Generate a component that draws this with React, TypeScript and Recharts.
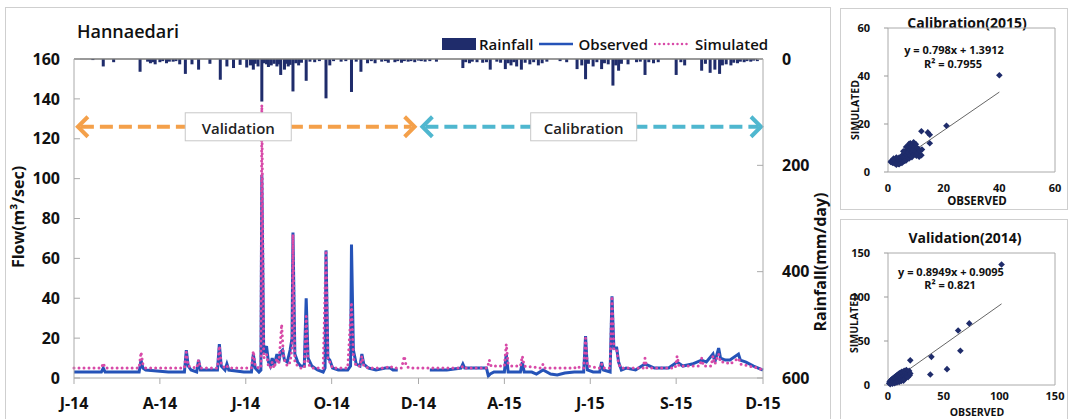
import React from 'react';
import {
  ComposedChart, Line, Bar, XAxis, YAxis, ReferenceLine,
  ScatterChart, Scatter, ReferenceArea,
} from 'recharts';

const FONT = '"Open Sans", "Noto Sans", sans-serif';
const NAVY = '#1f2c6b';
const OBS_BLUE = '#2553b8';
const SIM_PINK = '#d84aa8';

// x axis: day index from Jan 2014, quarter ticks
const tickDays = [0, 91, 182, 273, 365, 456, 547, 638, 730];
const tickLabels = ['J-14', 'A-14', 'J-14', 'O-14', 'D-14', 'A-15', 'J-15', 'S-15', 'D-15'];
const flowTicks = [0, 20, 40, 60, 80, 100, 120, 140, 160];
const rainTicks = [0, 200, 400, 600];

// [day, mm/day]
const rainfall: [number, number][] = [
  [20, 2], [31, 14], [42, 6], [70, 24], [78, 5], [81, 8], [84, 6], [86, 10], [91, 6], [94, 4],
  [98, 8], [101, 5], [105, 5], [108, 4], [112, 10], [118, 28], [125, 10], [132, 20], [144, 9],
  [155, 39], [162, 14], [169, 17], [176, 11], [183, 16], [187, 12], [190, 20], [192, 9], [195, 14],
  [199, 80], [201, 8], [204, 10], [206, 15], [209, 12], [212, 9], [215, 14], [217, 10], [219, 30],
  [223, 20], [225, 9], [227, 14], [229, 11], [232, 61], [235, 8], [238, 12], [241, 7], [246, 41],
  [250, 5], [255, 6], [260, 4], [267, 74], [271, 12], [275, 4], [283, 5], [288, 4], [294, 62],
  [299, 5], [304, 24], [311, 8], [315, 4], [319, 8], [326, 5], [330, 4], [333, 7], [340, 6],
  [343, 4], [347, 7], [350, 4], [354, 5], [357, 4], [361, 6], [365, 3], [368, 4], [372, 5],
  [377, 4], [384, 5], [412, 17], [415, 6], [419, 8], [422, 5], [427, 6], [433, 7], [437, 6],
  [441, 20], [448, 5], [452, 7], [457, 19], [460, 8], [463, 12], [466, 6], [469, 14], [474, 20],
  [478, 7], [483, 10], [487, 6], [492, 12], [496, 8], [501, 5], [515, 4], [522, 6], [533, 19],
  [538, 12], [542, 38], [545, 9], [550, 14], [554, 6], [559, 19], [562, 8], [566, 10], [571, 50],
  [574, 12], [577, 22], [580, 9], [587, 10], [596, 6], [600, 5], [605, 30], [609, 6], [614, 8],
  [619, 6], [638, 30], [643, 6], [647, 12], [665, 22], [669, 9], [674, 26], [679, 20], [684, 28],
  [687, 12], [691, 10], [696, 12], [699, 7], [703, 8], [706, 5], [710, 6], [713, 4], [717, 5],
  [720, 3], [724, 4],
];

// [day, m3/sec] observed flow, 2014 (record stops mid-December)
const observed2014: [number, number][] = [
  [0, 3], [29, 3], [31, 5], [33, 3], [69, 3], [71, 9], [73, 5], [76, 4], [100, 3], [117, 3],
  [119, 14], [121, 6], [124, 4], [130, 3], [132, 9], [134, 4], [152, 4], [154, 17], [156, 6],
  [160, 4], [162, 7], [164, 4], [180, 3], [188, 3], [190, 12], [192, 5], [196, 3], [198, 4],
  [199, 102], [201, 12], [204, 16], [206, 8], [208, 6], [210, 10], [212, 6], [215, 12], [217, 8],
  [219, 13], [221, 14], [223, 9], [226, 8], [229, 14], [231, 20], [232, 73], [234, 12], [237, 8],
  [240, 6], [244, 6], [246, 40], [248, 10], [252, 6], [258, 4], [264, 3], [266, 5], [267, 64],
  [269, 10], [271, 9], [274, 5], [280, 4], [290, 4], [293, 6], [294, 67], [296, 14], [299, 7],
  [303, 6], [305, 12], [307, 7], [312, 5], [320, 4], [330, 5], [335, 5], [338, 4], [343, 4],
];

// observed flow, 2015 (record resumes mid-January)
const observed2015: [number, number][] = [
  [377, 4], [395, 4], [410, 5], [412, 7], [414, 5], [430, 5], [437, 5], [439, 1], [441, 2],
  [445, 3], [456, 3], [458, 12], [460, 3], [473, 3], [475, 8], [477, 3], [485, 3], [490, 2],
  [497, 4], [505, 2], [512, 1.5], [520, 2.5], [530, 3], [540, 3], [542, 21], [544, 4], [550, 3],
  [557, 3], [559, 8], [561, 4], [568, 3], [570, 41], [572, 15], [575, 15], [577, 8], [580, 4],
  [585, 5], [595, 4], [605, 7], [615, 5], [630, 5], [639, 8], [645, 6], [655, 7], [665, 9],
  [670, 8], [677, 12], [679, 8], [683, 15], [685, 10], [690, 9], [695, 9], [704, 12], [706, 9],
  [712, 8], [720, 6], [730, 4],
];

// simulated flow, whole period
const simulated: [number, number][] = [
  [0, 5], [29, 5], [31, 7.5], [33, 5], [69, 5], [71, 13], [73, 7], [76, 5], [117, 5], [119, 13],
  [121, 6], [130, 5], [132, 9], [134, 5], [152, 5], [154, 16], [156, 7], [160, 5], [162, 6],
  [164, 5], [188, 5], [190, 13.5], [192, 6], [196, 5], [198, 5], [199, 137], [201, 10], [204, 12],
  [206, 6], [208, 5], [210, 8], [212, 5], [215, 10], [217, 7], [219, 20], [220, 27], [222, 10],
  [226, 6], [229, 8], [231, 15], [232, 72], [234, 8], [237, 6], [240, 5], [244, 5], [246, 31],
  [248, 7], [252, 5], [264, 5], [267, 64], [269, 9], [271, 8], [274, 5], [290, 5], [294, 38],
  [296, 10], [299, 6], [303, 6], [305, 11], [307, 6], [312, 5], [330, 5], [335, 6], [338, 5],
  [347, 5], [350, 11], [352, 6], [355, 5], [365, 5], [410, 5], [412, 6], [414, 5], [438, 5],
  [440, 9], [442, 6], [456, 6], [458, 17], [460, 7], [464, 6], [473, 6], [475, 11], [477, 6],
  [495, 5], [497, 7], [499, 5], [530, 5], [534, 6], [536, 5], [540, 5], [542, 20], [544, 6],
  [557, 5], [559, 7], [561, 5], [568, 5], [570, 41], [572, 14], [575, 14], [577, 7], [580, 5],
  [603, 5], [605, 10], [607, 5], [637, 5], [639, 11], [641, 6], [650, 6], [663, 6], [665, 10],
  [667, 6], [675, 6], [677, 11], [679, 7], [683, 12], [685, 8], [690, 8], [695, 7], [704, 10],
  [706, 7], [715, 6], [725, 5], [730, 4],
];

// scatter: [observed, simulated]
const calibrationPoints: [number, number][] = [
  [40, 40.3], [21, 19.3], [12, 17], [14.3, 16.5], [15, 15.5], [15, 12], [11, 7], [10.5, 9],
  [1, 4.2], [1.2, 4.6], [1.5, 4], [1.8, 3.8], [2, 4.5], [2.2, 5], [2.5, 3.6], [2.8, 4.2],
  [3, 5.2], [3, 3], [3.2, 4.6], [3.5, 5.5], [3.6, 4], [3.8, 3.4], [4, 6], [4.2, 4.8], [4.4, 5.6],
  [4.5, 3.8], [4.8, 6.4], [5, 5], [5.2, 7], [5.4, 4.4], [5.5, 6], [5.8, 7.6], [6, 5.4], [6, 8.4],
  [6.2, 6.6], [6.5, 4.8], [6.6, 9], [6.8, 7.2], [7, 6], [7, 10.2], [7.2, 8.2], [7.5, 11.6],
  [7.6, 5.6], [7.8, 9.4], [8, 7], [8, 12], [8.3, 10.4], [8.5, 8.2], [8.6, 6.2], [8.8, 11],
  [9, 9.2], [9.2, 12.4], [9.4, 7.4], [9.6, 10.6], [9.8, 8.6], [10, 11.6], [10.2, 6.8], [10.5, 10],
  [10.8, 8], [11, 9.6], [11.2, 6.4], [11.5, 8.8], [12, 7], [12.2, 9.4], [4, 3.2], [5, 3.8],
  [6, 4.6], [3, 6], [2, 5.6], [5.5, 8.6], [6.5, 10.4],
];

const validationPoints: [number, number][] = [
  [102, 137], [73, 70], [63, 62], [65, 39], [39, 32], [38, 12], [53, 18], [20, 28],
  [1, 2], [1.5, 4], [2, 3], [2.5, 5], [3, 2.5], [3, 6], [3.5, 4], [4, 7], [4.5, 3.5], [5, 5.5],
  [5, 8], [5.5, 4], [6, 9], [6, 6.5], [6.5, 3.5], [7, 10], [7, 7], [7.5, 5], [8, 11], [8, 8],
  [8.5, 4.5], [9, 12], [9, 9], [9.5, 6], [10, 13], [10, 10], [10.5, 7], [11, 14], [11, 11],
  [11.5, 5.5], [12, 12.5], [12, 8], [12.5, 15], [13, 10], [13, 6], [13.5, 13.5], [14, 9],
  [14.5, 16], [14.5, 11], [15, 7], [15.5, 14], [16, 12], [16, 8], [16.5, 17], [17, 10],
  [17.5, 14], [18, 12], [18, 9], [19, 16], [19.5, 11], [20, 13], [2, 1], [4, 1.5], [6, 2],
  [8, 3], [10, 3.5], [12, 4.5], [14, 5],
];

// trendline endpoints
const calibrationTrend: [number, number][] = [[2, 3], [40, 33.3]];
const validationTrend: [number, number][] = [[1, 1.8], [102, 92.2]];

// merge the series into one table keyed by day
const rowMap = new Map<number, any>();
const put = (list: [number, number][], key: string) =>
  list.forEach(([d, v]) => {
    const r = rowMap.get(d) ?? { day: d };
    r[key] = v;
    rowMap.set(d, r);
  });
put(rainfall, 'rain');
put(observed2014, 'obsA');
put(observed2015, 'obsB');
put(simulated, 'sim');
const chartData = Array.from(rowMap.values()).sort((a, b) => a.day - b.day);

const toXY = (list: [number, number][]) => list.map(([x, y]) => ({ x, y }));

const tickStyle = { fontSize: 16, fontWeight: 700, fill: '#111', fontFamily: FONT };
const smallTick = { fontSize: 11, fontWeight: 700, fill: '#111', fontFamily: FONT };

const PeriodArrow = (props: any) => {
  const { x1, x2, y1, color, label } = props;
  const y = y1;
  const mid = (x1 + x2) / 2 - 8;
  const bw = 106;
  const bh = 28;
  return (
    <g>
      <line x1={x1 + 5} y1={y} x2={x2 - 5} y2={y} stroke={color} strokeWidth={4} strokeDasharray="13 6" />
      <polyline points={`${x1 + 12},${y - 10} ${x1 + 2},${y} ${x1 + 12},${y + 10}`} fill="none" stroke={color} strokeWidth={4} />
      <polyline points={`${x2 - 12},${y - 10} ${x2 - 2},${y} ${x2 - 12},${y + 10}`} fill="none" stroke={color} strokeWidth={4} />
      <rect x={mid - bw / 2} y={y - bh / 2} width={bw} height={bh} fill="#fff" stroke="#c8c8c8" />
      <text x={mid} y={y + 1} textAnchor="middle" dominantBaseline="central" fontSize={15} fontWeight={600} fill="#222" fontFamily={FONT}>
        {label}
      </text>
    </g>
  );
};

// rain bars hang from the top; keep them ~3px wide whatever the band size is
const RainBar = (props: any) => {
  const { x, y, width, height } = props;
  if (!height) return null;
  const h = Math.abs(height);
  const top = height < 0 ? y + height : y;
  return <rect x={x + width / 2 - 1.5} y={top} width={3} height={h} fill={NAVY} />;
};

const Diamond = (props: any) => {
  const { cx, cy } = props;
  const s = 3.3;
  return <polygon points={`${cx},${cy - s} ${cx + s},${cy} ${cx},${cy + s} ${cx - s},${cy}`} fill={NAVY} />;
};

const LegendBox = () => (
  <div style={{ position: 'absolute', left: 442, top: 34, display: 'flex', alignItems: 'center', fontSize: 15, fontWeight: 600, color: '#111', whiteSpace: 'nowrap' }}>
    <span style={{ display: 'inline-block', width: 34, height: 12, background: NAVY, marginRight: 3 }} />
    <span>Rainfall</span>
    <svg width={38} height={10} style={{ margin: '0 2px 0 5px' }}>
      <line x1={0} y1={5} x2={34} y2={5} stroke={OBS_BLUE} strokeWidth={2.5} />
    </svg>
    <span>Observed</span>
    <svg width={38} height={10} style={{ margin: '0 3px 0 6px' }}>
      <line x1={1} y1={5} x2={34} y2={5} stroke={SIM_PINK} strokeWidth={2.5} strokeDasharray="0 4.5" strokeLinecap="round" />
    </svg>
    <span>Simulated</span>
  </div>
);

const Panel = ({ left, top, width, height }: any) => (
  <div style={{ position: 'absolute', left, top, width, height, border: '1px solid #cfcfcf' }} />
);

const Text = ({ left, top, size, children, rotate, weight = 700 }: any) => (
  <div
    style={{
      position: 'absolute', left, top, fontSize: size, fontWeight: weight, color: '#111', lineHeight: 1,
      whiteSpace: 'nowrap', transform: `translate(-50%, -50%)${rotate ? ` rotate(${rotate}deg)` : ''}`,
    }}
  >
    {children}
  </div>
);

const ScatterPanel = ({ points, trend, max, ticks, height, marginTop, marginBottom, xTickMargin }: any) => (
  <ScatterChart width={222} height={height} margin={{ top: marginTop, right: 10, bottom: marginBottom, left: 5 }}>
    <XAxis type="number" dataKey="x" domain={[0, max]} ticks={ticks} axisLine={false} tickLine={false} tickMargin={xTickMargin} height={28} tick={smallTick} />
    <YAxis type="number" dataKey="y" domain={[0, max]} ticks={ticks} axisLine={false} tickSize={4} tickLine={{ stroke: '#999' }} tickMargin={14} width={40} tick={smallTick} />
    <ReferenceArea x1={0} x2={max} y1={0} y2={max} fill="none" stroke="#aaa" strokeOpacity={1} fillOpacity={0} />
    <Scatter data={toXY(points)} shape={<Diamond />} isAnimationActive={false} />
    <ReferenceLine
      segment={[{ x: trend[0][0], y: trend[0][1] }, { x: trend[1][0], y: trend[1][1] }]}
      stroke="#666"
      strokeWidth={1}
    />
  </ScatterChart>
);

export default function App() {
  return (
    <div style={{ position: 'absolute', left: 0, top: 0, width: 1071, height: 419, overflow: 'hidden', background: '#fff', fontFamily: FONT }}>
      <Panel left={5} top={7} width={824} height={430} />
      <Panel left={840} top={8} width={226} height={200} />
      <Panel left={840} top={219} width={226} height={220} />

      <Text left={128} top={31} size={18} weight={600}>Hannaedari</Text>
      <LegendBox />
      <Text left={18} top={217} size={16} rotate={-90}>Flow(m³/sec)</Text>
      <Text left={820} top={262} size={16} rotate={-90}>Rainfall(mm/day)</Text>

      <div style={{ position: 'absolute', left: 0, top: 0 }}>
        <ComposedChart width={830} height={419} data={chartData} margin={{ top: 59, right: 7, bottom: 6, left: 14 }}>
          <XAxis
            type="number"
            dataKey="day"
            domain={[0, 730]}
            ticks={tickDays}
            tickFormatter={(v: number) => tickLabels[tickDays.indexOf(v)] ?? ''}
            height={35}
            tick={tickStyle}
            tickSize={6}
            tickMargin={14}
            axisLine={{ stroke: '#aaa' }}
            tickLine={{ stroke: '#aaa' }}
          />
          <YAxis
            yAxisId="flow"
            domain={[0, 160]}
            ticks={flowTicks}
            width={60}
            tick={tickStyle}
            tickSize={-6}
            tickMargin={20}
            axisLine={{ stroke: '#aaa' }}
            tickLine={{ stroke: '#aaa' }}
          />
          <YAxis
            yAxisId="rain"
            orientation="right"
            reversed
            domain={[0, 600]}
            ticks={rainTicks}
            width={60}
            tick={tickStyle}
            tickSize={-6}
            tickMargin={25}
            axisLine={{ stroke: '#aaa' }}
            tickLine={{ stroke: '#aaa' }}
          />
          <ReferenceLine yAxisId="flow" y={160} stroke="#777" strokeWidth={1.5} />
          <Bar yAxisId="rain" dataKey="rain" fill={NAVY} shape={<RainBar />} isAnimationActive={false} />
          <Line yAxisId="flow" type="linear" dataKey="obsA" stroke={OBS_BLUE} strokeWidth={3} dot={false} connectNulls isAnimationActive={false} />
          <Line yAxisId="flow" type="linear" dataKey="obsB" stroke={OBS_BLUE} strokeWidth={3} dot={false} connectNulls isAnimationActive={false} />
          <Line yAxisId="flow" type="linear" dataKey="sim" stroke={SIM_PINK} strokeWidth={3} strokeDasharray="0 5" strokeLinecap="round" dot={false} connectNulls isAnimationActive={false} />
          <ReferenceLine
            yAxisId="flow"
            segment={[{ x: 2, y: 126 }, { x: 363, y: 126 }]}
            shape={(p: any) => <PeriodArrow {...p} color="#f4a04a" label="Validation" />}
          />
          <ReferenceLine
            yAxisId="flow"
            segment={[{ x: 367, y: 126 }, { x: 730, y: 126 }]}
            shape={(p: any) => <PeriodArrow {...p} color="#4fb7cf" label="Calibration" />}
          />
        </ComposedChart>
      </div>

      {/* Calibration (2015) scatter */}
      <Text left={967} top={23} size={14}>Calibration(2015)</Text>
      <div style={{ position: 'absolute', left: 843, top: 7 }}>
        <ScatterPanel points={calibrationPoints} trend={calibrationTrend} max={60} ticks={[0, 20, 40, 60]} height={198} marginTop={21} marginBottom={5} xTickMargin={6} />
      </div>
      <Text left={954} top={49} size={11}>y = 0.798x + 1.3912</Text>
      <Text left={953} top={63} size={11}>R² = 0.7955</Text>
      <Text left={855} top={110} size={10.5} rotate={-90}>SIMULATED</Text>
      <Text left={977} top={201} size={11.5}>OBSERVED</Text>

      {/* Validation (2014) scatter */}
      <Text left={965} top={238} size={14}>Validation(2014)</Text>
      <div style={{ position: 'absolute', left: 843, top: 215 }}>
        <ScatterPanel points={validationPoints} trend={validationTrend} max={150} ticks={[0, 50, 100, 150]} height={204} marginTop={38} marginBottom={6} xTickMargin={1} />
      </div>
      <Text left={951} top={271} size={11}>y = 0.8949x + 0.9095</Text>
      <Text left={950} top={284} size={11}>R² = 0.821</Text>
      <Text left={854} top={323} size={10.5} rotate={-90}>SIMULATED</Text>
      <Text left={977} top={412} size={10.5}>OBSERVED</Text>
    </div>
  );
}
